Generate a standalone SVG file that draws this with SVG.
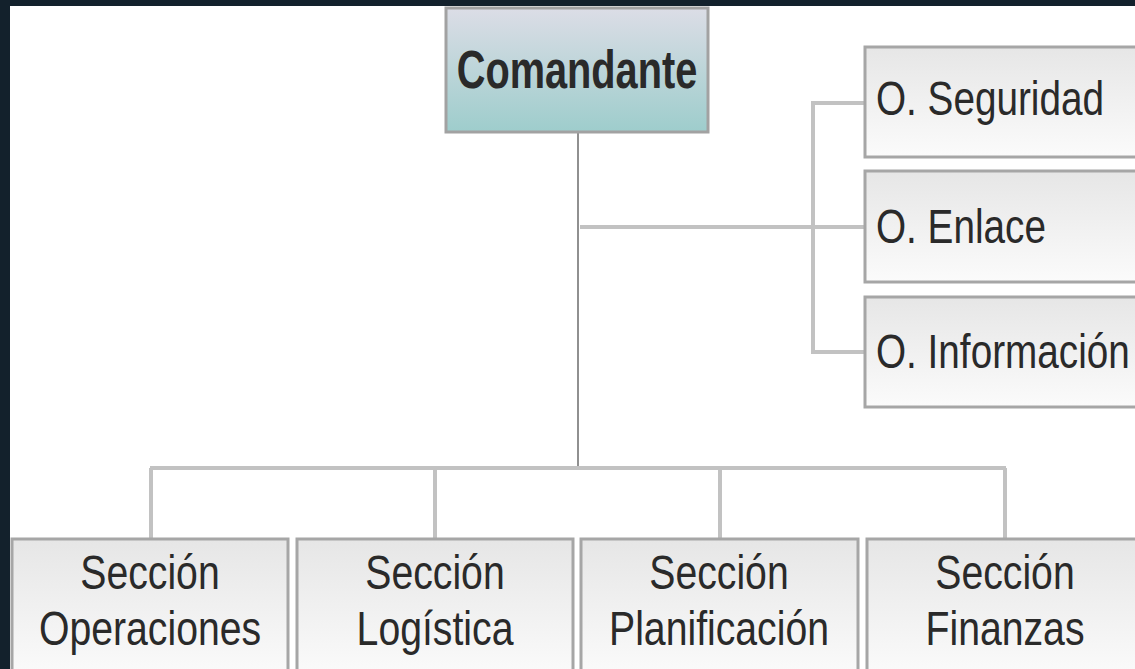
<svg xmlns="http://www.w3.org/2000/svg" width="1135" height="669" viewBox="0 0 1135 669">
<defs>
<linearGradient id="gTop" x1="0" y1="0" x2="0" y2="1">
<stop offset="0" stop-color="#dcdde6"/>
<stop offset="1" stop-color="#9ecdcc"/>
</linearGradient>
<linearGradient id="gBox" x1="0" y1="0" x2="0" y2="1">
<stop offset="0" stop-color="#e6e6e6"/>
<stop offset="1" stop-color="#fbfbfb"/>
</linearGradient>
</defs>
<style>
.box{fill:url(#gBox);stroke:#a6a6a6;stroke-width:3}
.t{font-family:"Liberation Sans",Arial,sans-serif;font-size:49px;fill:#2a2a2a}
.c{text-anchor:middle}
.ln{fill:none;stroke:#c2c2c2;stroke-width:4}
.thin{fill:none;stroke:#909090;stroke-width:2}
</style>
<rect x="0" y="0" width="1135" height="669" fill="#13212c"/>
<rect x="10" y="6" width="1125" height="663" fill="#ffffff"/>
<g id="connectors">
<line class="thin" x1="578" y1="133" x2="578" y2="468"/>
<line class="ln" x1="580" y1="227" x2="865" y2="227" stroke-width="5"/>
<polyline class="ln" points="865,103 813,103 813,352 865,352"/>
<line class="ln" x1="150" y1="468" x2="1006" y2="468" stroke="#bdbdbd"/>
<line class="ln" x1="151" y1="468" x2="151" y2="538" stroke-width="3"/>
<line class="ln" x1="435" y1="468" x2="435" y2="538" stroke-width="3"/>
<line class="ln" x1="720" y1="468" x2="720" y2="538" stroke-width="3"/>
<line class="ln" x1="1005" y1="468" x2="1005" y2="538" stroke-width="3"/>
</g>
<g id="comandante">
<rect x="446" y="8" width="262" height="124" fill="url(#gTop)" stroke="#a2a2a2" stroke-width="3"/>
<text class="t c" transform="translate(577,88) scale(0.75,1)" font-size="53" font-weight="bold" style="font-size:53px">Comandante</text>
</g>
<g id="seguridad">
<rect class="box" x="865" y="47" width="290" height="110"/>
<text class="t" transform="translate(876,115) scale(0.79,1)">O. Seguridad</text>
</g>
<g id="enlace">
<rect class="box" x="865" y="171" width="290" height="111"/>
<text class="t" transform="translate(876,243) scale(0.79,1)">O. Enlace</text>
</g>
<g id="informacion">
<rect class="box" x="865" y="297" width="290" height="110"/>
<text class="t" transform="translate(876,368) scale(0.79,1)">O. Información</text>
</g>
<g id="operaciones">
<rect class="box" x="12" y="539" width="276" height="140"/>
<text class="t c" transform="translate(150,589) scale(0.8,1)">Sección</text>
<text class="t c" transform="translate(150,645) scale(0.8,1)">Operaciones</text>
</g>
<g id="logistica">
<rect class="box" x="297" y="539" width="276" height="140"/>
<text class="t c" transform="translate(435,589) scale(0.8,1)">Sección</text>
<text class="t c" transform="translate(435,645) scale(0.8,1)">Logística</text>
</g>
<g id="planificacion">
<rect class="box" x="581" y="539" width="277" height="140"/>
<text class="t c" transform="translate(719,589) scale(0.8,1)">Sección</text>
<text class="t c" transform="translate(719,645) scale(0.8,1)">Planificación</text>
</g>
<g id="finanzas">
<rect class="box" x="867" y="539" width="277" height="140"/>
<text class="t c" transform="translate(1005,589) scale(0.8,1)">Sección</text>
<text class="t c" transform="translate(1005,645) scale(0.8,1)">Finanzas</text>
</g>
</svg>
